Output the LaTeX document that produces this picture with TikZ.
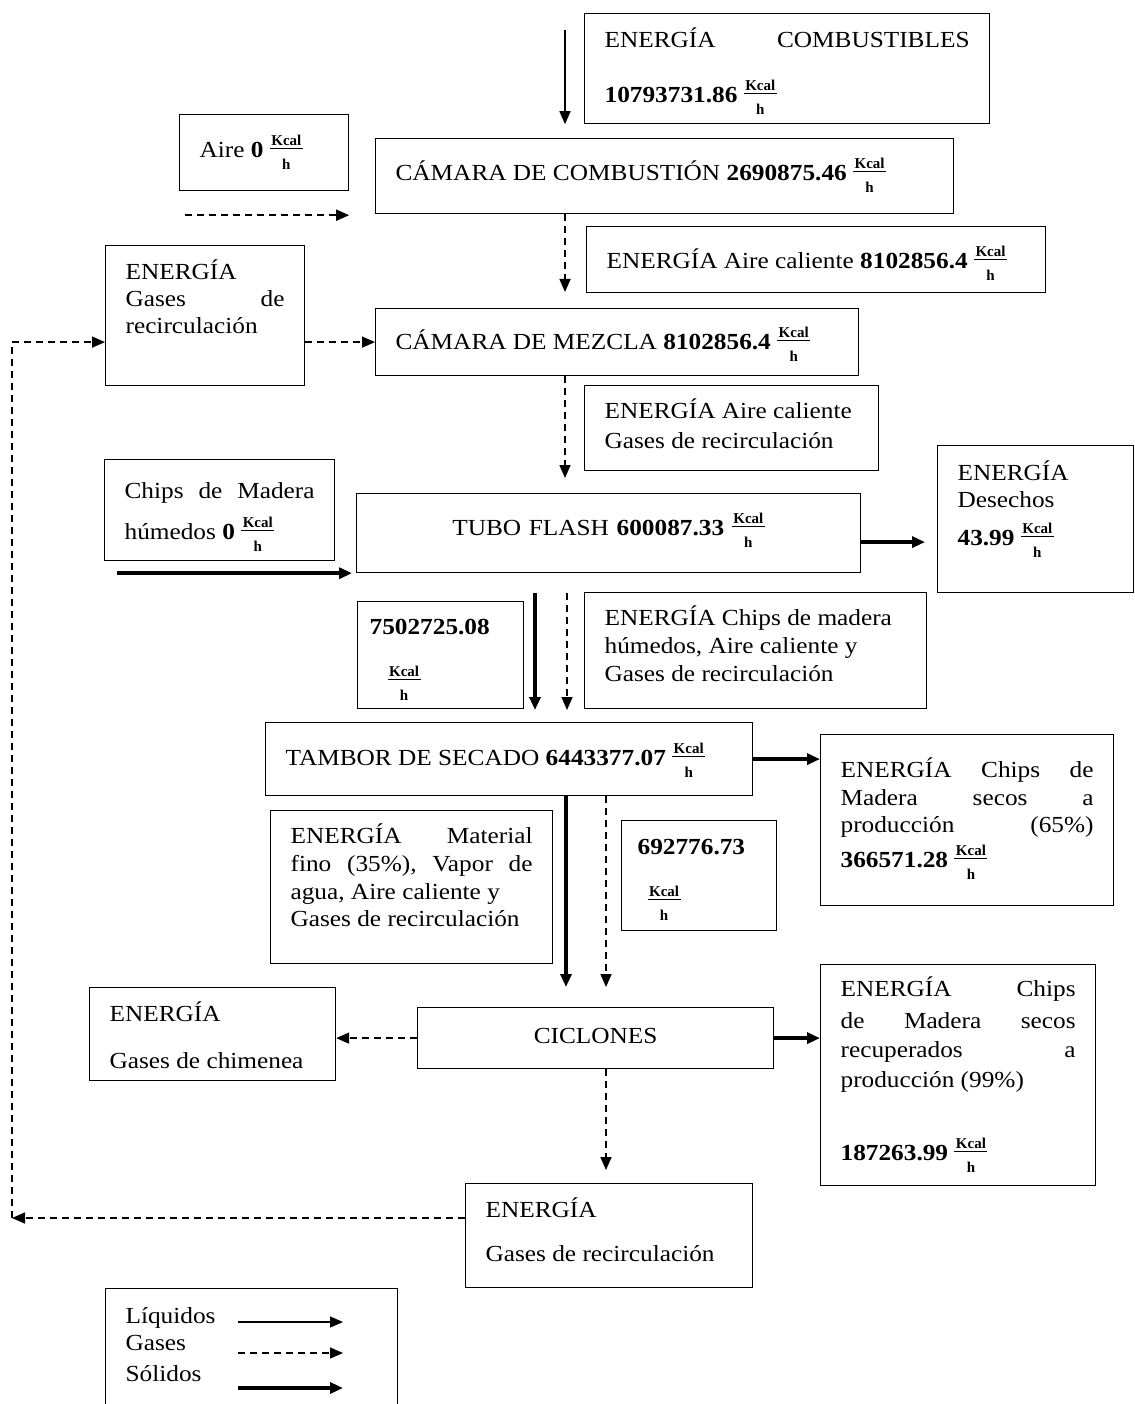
\documentclass[tikz,border=0pt]{standalone}
\usepackage{fontspec}
\setmainfont{Liberation Serif}[FakeStretch=1.1]
\newfontfamily\unitfont{Liberation Serif}
\usepackage{tikz}
\usetikzlibrary{arrows.meta, calc}

% stacked Kcal/h unit after each value
\newsavebox{\kcalbox}
\newcommand{\kh}{\smash{\unitfont\fontsize{15}{15}\selectfont\bfseries
  \sbox{\kcalbox}{Kcal}%
  \rlap{\raisebox{12.5pt}{\makebox[\dimexpr\wd\kcalbox+3pt]{Kcal}}}%
  \rlap{\raisebox{8.5pt}{\rule{\dimexpr\wd\kcalbox+3pt}{1.2pt}}}%
  \raisebox{-12pt}{\makebox[\dimexpr\wd\kcalbox+3pt]{h}}}}

\begin{document}
\begin{tikzpicture}[
    x=1pt, y=-1pt,
    %% ── Boxes: placed by top-left corner, text baseline set by text height ──
    box/.style={draw, line width=1.2pt, anchor=north west,
        inner xsep=20pt, inner ysep=0pt, align=flush left,
        font=\fontsize{23}{27}\selectfont},
    %% ── Flow styles (see legend) ──
    liq/.style={-{Triangle[length=13pt, width=11pt]}, line width=1.6pt},
    gas/.style={liq, dash pattern=on 7pt off 5pt},
    sol/.style={liq, line width=3.6pt},
]
\useasboundingbox (0,0) rectangle (1134,1404);

% ── Combustion ──
\node[box, text width=365pt, text height=34pt, text depth=76pt] (comb) at (584,13)
    {ENERGÍA \hfill COMBUSTIBLES\\[28pt]\textbf{10793731.86} \kh};
\node[box, text width=129pt, text height=43pt, text depth=33pt] (aire) at (179,114)
    {Aire \textbf{0} \kh};
\node[box, text width=538pt, text height=42pt, text depth=33pt] (camcomb) at (375,138)
    {CÁMARA DE COMBUSTIÓN \textbf{2690875.46} \kh};
\node[box, text width=419pt, text height=42pt, text depth=24pt] (airecal) at (586,226)
    {ENERGÍA Aire caliente \textbf{8102856.4} \kh};

% ── Mixing ──
\node[box, text width=159pt, text height=34pt, text depth=106pt] (recirc) at (105,245)
    {ENERGÍA\\Gases \hfill de\\recirculación};
\node[box, text width=443pt, text height=41pt, text depth=26pt] (camezcla) at (375,308)
    {CÁMARA DE MEZCLA \textbf{8102856.4} \kh};
\node[box, text width=254pt, text height=33pt, text depth=52pt] (airegases) at (584,385)
    {ENERGÍA Aire caliente\\[3pt]Gases de recirculación};

% ── Flash tube ──
\node[box, text width=190pt, text height=39pt, text depth=62pt] (chips) at (104,459)
    {Chips \hfill de \hfill Madera\\[14pt]húmedos \textbf{0} \kh};
\node[box, align=center, text width=464pt, text height=42pt, text depth=37pt] (tubo) at (356,493)
    {TUBO FLASH \textbf{600087.33} \kh};
\node[box, text width=156pt, text height=35pt, text depth=112pt] (desechos) at (937,445)
    {ENERGÍA\\Desechos\\[11pt]\textbf{43.99} \kh};
\node[box, inner xsep=12pt, text width=142pt, text height=33pt, text depth=74pt] (flashout) at (357,601)
    {\textbf{7502725.08}\\[27pt]\hspace*{18pt}\kh};
\node[box, text width=302pt, text height=33pt, text depth=83pt] (chipsh) at (584,592)
    {ENERGÍA Chips de madera\\[1pt]húmedos, Aire caliente y\\[1pt]Gases de recirculación};

% ── Drying drum ──
\node[box, text width=447pt, text height=43pt, text depth=30pt] (tambor) at (265,722)
    {TAMBOR DE SECADO \textbf{6443377.07} \kh};
\node[box, text width=253pt, text height=43pt, text depth=128pt] (secos) at (820,734)
    {ENERGÍA \hfill Chips \hfill de\\[1pt]Madera \hfill secos \hfill a\\producción \hfill (65\%)\\[8pt]\textbf{366571.28} \kh};
\node[box, text width=242pt, text height=33pt, text depth=120pt] (matfino) at (270,810)
    {ENERGÍA \hfill Material\\[1pt]fino \hfill (35\%), \hfill Vapor \hfill de\\[1pt]agua, Aire caliente y\\Gases de recirculación};
\node[box, inner xsep=16pt, text width=123pt, text height=34pt, text depth=76pt] (tamborout) at (621,820)
    {\textbf{692776.73}\\[27pt]\hspace*{10pt}\kh};

% ── Cyclones ──
\node[box, align=center, text width=316pt, text height=36pt, text depth=25pt] (ciclones) at (417,1007)
    {CICLONES};
\node[box, text width=206pt, text height=34pt, text depth=59pt] (chimenea) at (89,987)
    {ENERGÍA\\[20pt]Gases de chimenea};
\node[box, text width=235pt, text height=32pt, text depth=189pt] (recup) at (820,964)
    {ENERGÍA \hfill Chips\\[5pt]de \hfill Madera \hfill secos\\[2pt]recuperados \hfill a\\[3pt]producción (99\%)\\[46pt]\textbf{187263.99} \kh};
\node[box, text width=247pt, text height=34pt, text depth=70pt] (gasrec) at (465,1183)
    {ENERGÍA\\[17pt]Gases de recirculación};

% ── Legend ──
\node[box, text width=252pt, text height=35pt, text depth=95pt] (legend) at (105,1288)
    {Líquidos\\Gases\\[4pt]Sólidos};

% Inputs to the combustion chamber
\draw[liq] ($(comb.north west)+(-19,17)$) -- ($(comb.south west)+(-19,0)$);
\draw[gas] ($(aire.south west)+(6,24)$) -- ($(aire.south east)+(0,24)$);
\draw[gas] ($(camcomb.south west)+(190,0)$) -- ($(camezcla.north west)+(190,-16)$);

% Mixing chamber
\draw[gas] (recirc.east |- camezcla.west) -- (camezcla.west);
\draw[gas] ($(camezcla.south west)+(190,0)$) -- ($(tubo.north west)+(209,-15)$);

% Flash tube
\draw[sol] ($(tubo.south west)+(-239,0)$) -- ($(tubo.south west)+(-4,0)$);
\draw[sol] ($(tubo.east)+(0,9)$) -- ($(desechos.west |- tubo.east)+(-12,9)$);
\draw[sol] ($(tubo.south west)+(179,20)$) -- ($(tambor.north west)+(270,-12)$);
\draw[gas] ($(tubo.south west)+(211,20)$) -- ($(tambor.north west)+(302,-12)$);

% Drying drum
\draw[sol] (tambor.east) -- (secos.west |- tambor.east);
\draw[sol] ($(tambor.south west)+(301,0)$) -- ($(ciclones.north west)+(149,-20)$);
\draw[gas] ($(tambor.south west)+(341,0)$) -- ($(ciclones.north west)+(189,-20)$);

% Cyclones
\draw[gas] (ciclones.west) -- (chimenea.east |- ciclones.west);
\draw[sol] (ciclones.east) -- (recup.west |- ciclones.east);
\draw[gas] ($(ciclones.south west)+(189,0)$) -- ($(gasrec.north west)+(141,-13)$);

% Recirculation loop back to the mixing chamber
\coordinate (loop) at (12,1218);
\draw[gas] ($(gasrec.north west)+(0,35)$) -- (loop);
\draw[gas] (loop) |- (recirc.west |- camezcla.west);

% Legend samples
\draw[liq] ($(legend.north west)+(133,34)$) -- ($(legend.north west)+(238,34)$);
\draw[gas] ($(legend.north west)+(133,65)$) -- ($(legend.north west)+(238,65)$);
\draw[sol] ($(legend.north west)+(133,100)$) -- ($(legend.north west)+(238,100)$);

\end{tikzpicture}
\end{document}
